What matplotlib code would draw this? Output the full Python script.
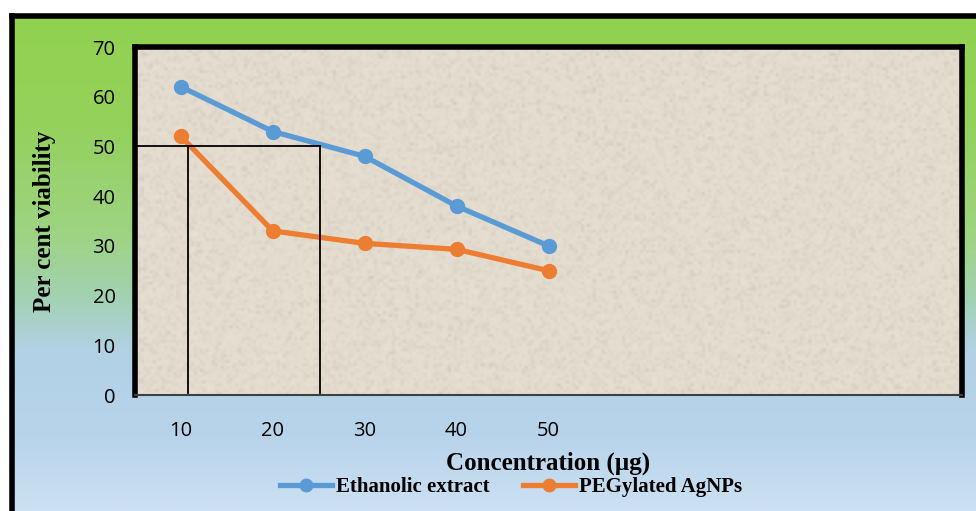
import numpy as np
import matplotlib.pyplot as plt
from matplotlib.colors import LinearSegmentedColormap

# dane
stezenia = ['10', '20', '30', '40', '50']
etanol = [62, 53, 48, 38, 30]
peg_agnps = [52, 33, 30.5, 29.3, 25]
n_kategorii = 9  # os x zostawia miejsce na 9 kategorii

# linie pomocnicze IC50 (pozycje w jednostkach kategorii)
ic50_y = 50
ic50_peg_x = 0.08
ic50_etanol_x = 1.51

W, H = 976, 511
fig = plt.figure(figsize=(W / 100, H / 100), dpi=100)
fig.patch.set_facecolor('white')

# tlo z gradientem zielony -> niebieski
tlo = fig.add_axes([0, 0, 1, 1], zorder=-5)
tlo.set_axis_off()
cmap = LinearSegmentedColormap.from_list('tlo', [
    (0.0, (0.57, 0.82, 0.31)),
    (0.22, (0.58, 0.82, 0.36)),
    (0.45, (0.62, 0.83, 0.52)),
    (0.58, (0.64, 0.82, 0.72)),
    (0.68, (0.70, 0.82, 0.90)),
    (0.85, (0.72, 0.83, 0.92)),
    (1.0, (0.80, 0.88, 0.95)),
])
grad = np.linspace(0, 1, 256).reshape(-1, 1)
x0, y_top = 12 / W, 1 - 16 / H
tlo.imshow(grad, cmap=cmap, aspect='auto', extent=[x0, 1, 0, y_top], origin='upper')
tlo.set_xlim(0, 1)
tlo.set_ylim(0, 1)
tlo.plot([x0, 1], [y_top, y_top], color='black', lw=4, solid_capstyle='projecting')
tlo.plot([x0, x0], [0, y_top], color='black', lw=4, solid_capstyle='projecting')

ax = fig.add_axes([135 / W, 1 - 395 / H, (962 - 135) / W, (395 - 47) / H])

# faktura tla wykresu (papier)
rng = np.random.default_rng(3)
szum = rng.normal(0, 1, (120, 280))
ax.imshow(szum, cmap=LinearSegmentedColormap.from_list('p', ['#d3cbbb', '#e4dccf', '#e8e1d5']),
          vmin=-3, vmax=3, aspect='auto', extent=[-0.5, n_kategorii - 0.5, 0, 70], zorder=0,
          interpolation='bilinear')

x = np.arange(len(stezenia))
ax.plot(x, etanol, color='#5B9BD5', lw=3.8, marker='o', ms=10, zorder=3, label='Ethanolic extract')
ax.plot(x, peg_agnps, color='#ED7D31', lw=3.8, marker='o', ms=10, zorder=3, label='PEGylated AgNPs')

# linie IC50
ax.plot([-0.5, ic50_etanol_x], [ic50_y, ic50_y], color='black', lw=1.3, zorder=4)
ax.plot([ic50_peg_x, ic50_peg_x], [0.5, ic50_y], color='black', lw=1.3, zorder=4)
ax.plot([ic50_etanol_x, ic50_etanol_x], [0.5, ic50_y], color='black', lw=1.3, zorder=4)

ax.set_xlim(-0.5, n_kategorii - 0.5)
ax.set_ylim(0, 70)
ax.set_xticks(x)
ax.set_xticklabels(stezenia)
ax.set_yticks(range(0, 71, 10))
ax.tick_params(length=0, labelsize=14.5)
ax.tick_params(axis='x', pad=19)
ax.tick_params(axis='y', pad=14)
for t in ax.get_xticklabels() + ax.get_yticklabels():
    t.set_fontfamily('Open Sans')

for s in ['top', 'left', 'right']:
    ax.spines[s].set_linewidth(4)
    ax.spines[s].set_color('black')
ax.spines['bottom'].set_linewidth(1.5)
ax.spines['bottom'].set_color('#404040')

ax.set_ylabel('Per cent viability', fontsize=18, fontweight='bold', family='Liberation Serif')
ax.yaxis.set_label_coords(-0.096, 0.5)
ax.set_xlabel('Concentration (µg)', fontsize=18, fontweight='bold', family='Liberation Serif')
ax.xaxis.set_label_coords(0.5, -0.162)

ax.legend(loc='center', bbox_to_anchor=(0.455, -0.265), ncol=2, frameon=False,
          prop={'family': 'Liberation Serif', 'weight': 'bold', 'size': 15},
          handlelength=2.5, handletextpad=0.2, columnspacing=1.6, borderpad=0,
          markerscale=0.9)

fig.savefig('out.png', dpi=100)
